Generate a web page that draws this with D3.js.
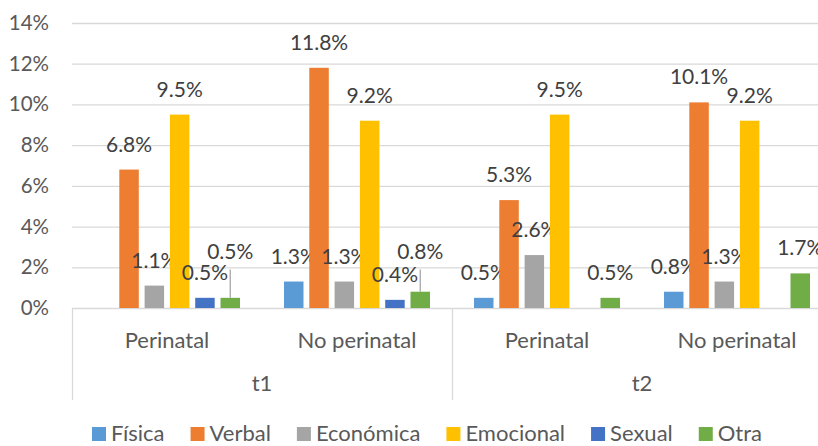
<!DOCTYPE html>
<html lang="es">
<head>
<meta charset="UTF-8">
<title>Violencia por tipo</title>
<script src="https://d3js.org/d3.v7.min.js"></script>
<style>
  body { margin: 0; background: #fff; overflow: hidden; }
  text { font-family: Lato, "Open Sans", sans-serif; }
  .tick-label { fill: #595959; font-size: 20.5px; }
  .value-label { fill: #404040; font-size: 21px; }
  .cat-label { fill: #595959; font-size: 22px; }
  .legend-label { fill: #595959; font-size: 22px; }
</style>
</head>
<body>
<div id="chart"></div>
<script>
// data
const periods = ["t1", "t2"];
const groups = ["Perinatal", "No perinatal"];
const series = ["Física", "Verbal", "Económica", "Emocional", "Sexual", "Otra"];
const colors = ["#5B9BD5", "#ED7D31", "#A5A5A5", "#FFC000", "#4472C4", "#70AD47"];
// one row per (period, group), values in %, null = not shown
const t1Perinatal   = [null, 6.8, 1.1, 9.5, 0.5, 0.5];
const t1NoPerinatal = [1.3, 11.8, 1.3, 9.2, 0.4, 0.8];
const t2Perinatal   = [0.5, 5.3, 2.6, 9.5, null, 0.5];
const t2NoPerinatal = [0.8, 10.1, 1.3, 9.2, null, 1.7];
const yTicks = [0, 2, 4, 6, 8, 10, 12, 14];

const rows = [
  { period: "t1", group: "Perinatal", values: t1Perinatal },
  { period: "t1", group: "No perinatal", values: t1NoPerinatal },
  { period: "t2", group: "Perinatal", values: t2Perinatal },
  { period: "t2", group: "No perinatal", values: t2NoPerinatal }
];
// labels that were dragged up with a leader line in the original
const lifted = new Set(["t1|Perinatal|Otra", "t1|No perinatal|Otra"]);
const liftLevel = 1.5;

const W = 818, H = 446;
const plotLeft = 72, plotRight = 832, plotTop = 23, plotBottom = 308;

const svg = d3.select("#chart").append("svg")
  .attr("width", W).attr("height", H);

const y = d3.scaleLinear().domain([0, 14]).range([plotBottom, plotTop]);
const x0 = d3.scaleBand().domain(rows.map(r => r.period + "|" + r.group)).range([plotLeft, plotRight]);
const x1 = d3.scaleBand().domain(series).range([0, x0.bandwidth()])
  .paddingInner(0.23).paddingOuter(0.87);
const xPeriod = d3.scaleBand().domain(periods).range([plotLeft, plotRight]);

// gridlines
svg.append("g").selectAll("line").data(yTicks).join("line")
  .attr("x1", plotLeft).attr("x2", plotRight)
  .attr("y1", d => y(d) + 0.5).attr("y2", d => y(d) + 0.5)
  .attr("stroke", "#D9D9D9").attr("stroke-width", 1.3);

// y tick labels
svg.append("g").selectAll("text").data(yTicks).join("text")
  .attr("class", "tick-label")
  .attr("x", 49).attr("y", d => y(d) + 7)
  .attr("text-anchor", "end")
  .text(d => d + "%");

// category axis separators
const seps = [plotLeft, xPeriod("t2"), plotRight];
svg.append("g").selectAll("line").data(seps).join("line")
  .attr("x1", d => d + 0.5).attr("x2", d => d + 0.5)
  .attr("y1", plotBottom).attr("y2", 400)
  .attr("stroke", "#D9D9D9").attr("stroke-width", 1.3);

// bars and labels
rows.forEach(r => {
  const key = r.period + "|" + r.group;
  const g = svg.append("g").attr("transform", `translate(${x0(key)},0)`);
  series.forEach((s, i) => {
    const v = r.values[i];
    if (v == null) return;
    const cx = x1(s) + x1.bandwidth() / 2;
    g.append("rect")
      .attr("x", x1(s)).attr("y", y(v))
      .attr("width", x1.bandwidth()).attr("height", y(0) - y(v))
      .attr("fill", colors[i]);
    const isLifted = lifted.has(key + "|" + s);
    const ly = isLifted ? y(liftLevel) : y(v);
    if (isLifted) {
      g.append("line")
        .attr("x1", cx).attr("x2", cx)
        .attr("y1", ly - 8).attr("y2", y(v))
        .attr("stroke", "#A6A6A6").attr("stroke-width", 1.3);
    }
    g.append("text")
      .attr("class", "value-label")
      .attr("x", cx).attr("y", ly - 18)
      .attr("text-anchor", "middle")
      .text(v.toFixed(1) + "%");
  });
  g.append("text")
    .attr("class", "cat-label")
    .attr("x", x0.bandwidth() / 2).attr("y", 348)
    .attr("text-anchor", "middle")
    .text(r.group);
});

// period labels
svg.append("g").selectAll("text").data(periods).join("text")
  .attr("class", "cat-label")
  .attr("x", d => xPeriod(d) + xPeriod.bandwidth() / 2).attr("y", 391)
  .attr("text-anchor", "middle")
  .text(d => d);

// legend
const legend = svg.append("g");
let lx = 0;
series.forEach((s, i) => {
  const item = legend.append("g").attr("transform", `translate(${lx},0)`);
  item.append("rect").attr("x", 0).attr("y", -7).attr("width", 14).attr("height", 14)
    .attr("fill", colors[i]);
  const t = item.append("text").attr("class", "legend-label")
    .attr("x", 19).attr("y", 7).text(s);
  lx += 19 + t.node().getComputedTextLength() + 26;
});
const legendW = lx - 26;
legend.attr("transform", `translate(${427 - legendW / 2},434)`);
</script>
</body>
</html>
